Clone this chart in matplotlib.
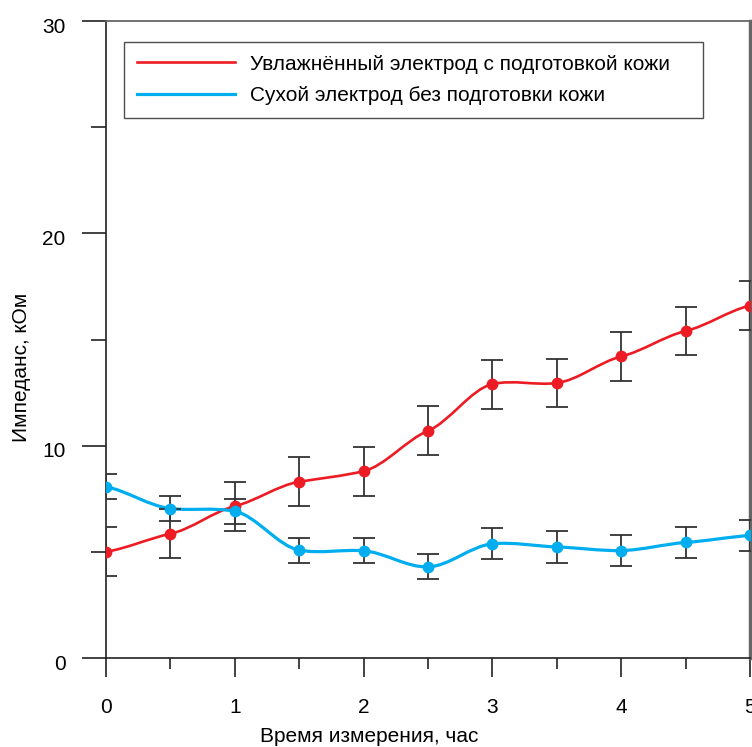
import numpy as np
import matplotlib.pyplot as plt
from matplotlib.path import Path
from matplotlib.patches import PathPatch
from matplotlib.lines import Line2D
from matplotlib.transforms import ScaledTranslation

plt.rcParams['font.family'] = ['Liberation Sans', 'DejaVu Sans']

# data
hours = [0, 0.5, 1, 1.5, 2, 2.5, 3, 3.5, 4, 4.5, 5]
wet = [5.0, 5.85, 7.15, 8.3, 8.8, 10.7, 12.9, 12.95, 14.2, 15.4, 16.6]
wet_err = [1.15, 1.15, 1.15, 1.15, 1.15, 1.15, 1.15, 1.15, 1.15, 1.15, 1.15]
dry = [8.07, 7.04, 6.91, 5.08, 5.05, 4.29, 5.38, 5.23, 5.06, 5.44, 5.77]
dry_err = [0.59, 0.59, 0.6, 0.59, 0.59, 0.59, 0.74, 0.74, 0.74, 0.74, 0.75]

labels = ['Увлажнённый электрод с подготовкой кожи',
          'Сухой электрод без подготовки кожи']
red = '#ed1c24'
blue = '#00aeef'


def smooth_path(xs, ys, k=0.6):
    # cubic bezier through the points, catmull-rom tangents scaled by k
    xs = np.asarray(xs, float)
    ys = np.asarray(ys, float)
    n = len(xs)
    m = np.zeros(n)
    m[0] = (ys[1] - ys[0]) / (xs[1] - xs[0])
    m[-1] = (ys[-1] - ys[-2]) / (xs[-1] - xs[-2])
    m[1:-1] = (ys[2:] - ys[:-2]) / (xs[2:] - xs[:-2])
    m = m * k
    verts = [(xs[0], ys[0])]
    codes = [Path.MOVETO]
    for i in range(n - 1):
        h = xs[i + 1] - xs[i]
        verts += [(xs[i] + h / 3, ys[i] + m[i] * h / 3),
                  (xs[i + 1] - h / 3, ys[i + 1] - m[i + 1] * h / 3),
                  (xs[i + 1], ys[i + 1])]
        codes += [Path.CURVE4] * 3
    return Path(verts, codes)


fig = plt.figure(figsize=(7.52, 7.47), dpi=100)
ax = fig.add_axes([106 / 752, 1 - 658 / 747, 644 / 752, 637 / 747])

ax.add_patch(PathPatch(smooth_path(hours, wet), fc='none', ec=red, lw=1.9, zorder=3))
ax.add_patch(PathPatch(smooth_path(hours, dry), fc='none', ec=blue, lw=2.3, zorder=3))

ax.errorbar(hours, wet, yerr=wet_err, fmt='none', ecolor='#333333', elinewidth=1.3,
            capsize=8, capthick=1.3, zorder=4)
ax.errorbar(hours, dry, yerr=dry_err, fmt='none', ecolor='#333333', elinewidth=1.3,
            capsize=8, capthick=1.3, zorder=4)
ax.plot(hours, wet, 'o', color=red, ms=8.5, mec='none', zorder=5)
ax.plot(hours, dry, 'o', color=blue, ms=8.5, mec='none', zorder=5)

ax.set_xlim(0, 5)
ax.set_ylim(0, 30)
ax.set_xticks(np.arange(0, 6, 1))
ax.set_xticks(np.arange(0.5, 5, 1), minor=True)
ax.set_yticks([0, 10, 20, 30])
ax.set_yticks([5, 15, 25], minor=True)
ax.tick_params(axis='both', which='both', direction='out', color='#222222', width=1.2)
ax.tick_params(axis='y', which='major', length=17, pad=12, labelsize=15)
ax.tick_params(axis='y', which='minor', length=11)
ax.tick_params(axis='x', which='major', length=14, pad=15, labelsize=15)
ax.tick_params(axis='x', which='minor', length=8)
for lab in ax.get_yticklabels():
    lab.set_transform(lab.get_transform() + ScaledTranslation(0, -3 / 72, fig.dpi_scale_trans))

for s in ['left', 'bottom']:
    ax.spines[s].set_color('#222222')
    ax.spines[s].set_linewidth(1.2)
ax.spines['top'].set_color('#666666')
ax.spines['top'].set_linewidth(1.3)
ax.spines['right'].set_color('#666666')
ax.spines['right'].set_linewidth(2.5)

ax.set_xlabel('Время измерения, час', fontsize=15)
ax.set_ylabel('Импеданс, кОм', fontsize=15)
ax.xaxis.set_label_coords((369 - 106) / 644, (658 - 727) / 637)
ax.yaxis.set_label_coords((31 - 106) / 644, (658 - 367) / 637)

handles = [Line2D([], [], color=red, lw=1.9), Line2D([], [], color=blue, lw=2.3)]
leg = ax.legend(handles, labels, loc='upper left',
                bbox_to_anchor=((124 - 106) / 644, (658 - 42) / 637, (703 - 124) / 644, 0),
                mode='expand', fontsize=15, frameon=True, fancybox=False, edgecolor='#222222',
                handlelength=4.75, handletextpad=0.72, borderpad=0.6, labelspacing=0.6,
                borderaxespad=0)
leg.get_frame().set_linewidth(1.0)

fig.savefig('out.png', dpi=100)
